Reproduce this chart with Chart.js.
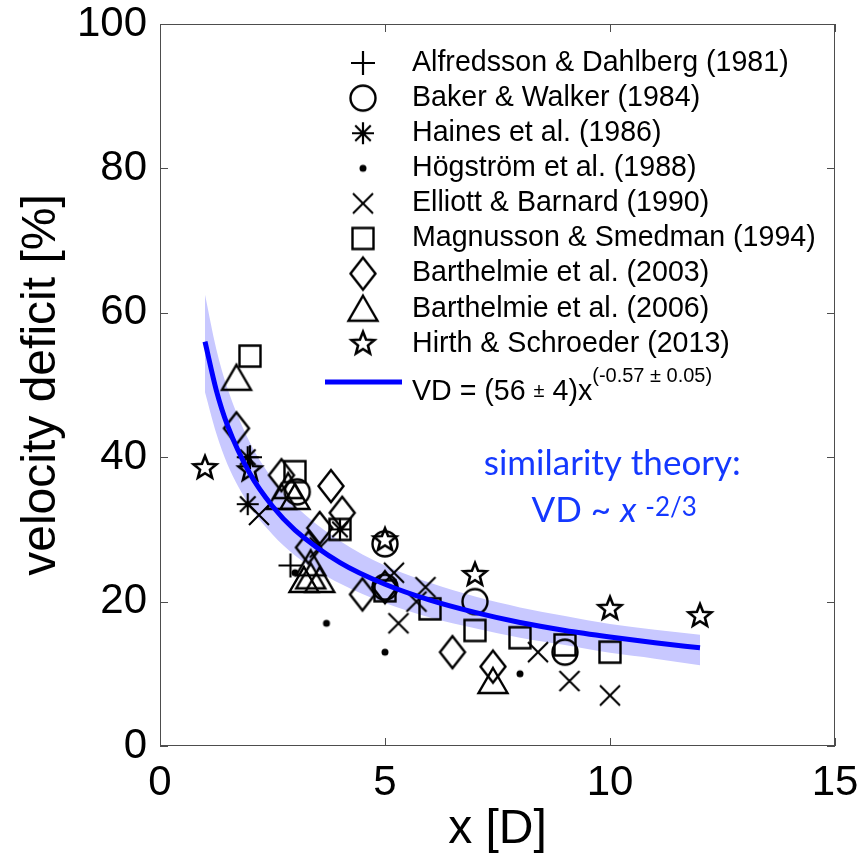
<!DOCTYPE html>
<html>
<head>
<meta charset="utf-8">
<script src="https://cdn.jsdelivr.net/npm/chart.js@4.4.0/dist/chart.umd.min.js"></script>
<style>
  html, body { margin: 0; padding: 0; background: #fff; }
</style>
</head>
<body>
<canvas id="vdChart" width="863" height="859"></canvas>
<script>
// wake velocity deficit [%] against downstream distance x [D]
const studyNames = [
  "Alfredsson & Dahlberg (1981)",
  "Baker & Walker (1984)",
  "Haines et al. (1986)",
  "Högström et al. (1988)",
  "Elliott & Barnard (1990)",
  "Magnusson & Smedman (1994)",
  "Barthelmie et al. (2003)",
  "Barthelmie et al. (2006)",
  "Hirth & Schroeder (2013)",
];
const studyMarkers = ["plus", "circle", "asterisk", "dot", "x", "square", "diamond", "triangle", "star"];

const alfredssonX = [2.9, 2.0];
const alfredssonVD = [25, 40];
const bakerX = [3.05, 5, 5, 7, 9];
const bakerVD = [35.2, 28, 22, 20, 13];
const hainesX = [1.95, 1.95, 4];
const hainesVD = [40, 33.5, 30];
const hogstromX = [3, 3.7, 5, 8];
const hogstromVD = [24, 17, 13, 10];
const elliottX = [2.2, 3.55, 5.2, 5.3, 5.7, 5.9, 8.4, 9.1, 10];
const elliottVD = [32, 27.5, 24, 17, 20, 22, 13, 9, 7];
const magnussonX = [2, 3, 4, 5, 6, 7, 8, 9, 10];
const magnussonVD = [54, 38, 30, 21.5, 19, 16, 15, 14, 13];
const barth03X = [1.7, 2.7, 3.3, 3.55, 3.8, 4.05, 4.5, 5, 6.5, 7.4];
const barth03VD = [44, 37.5, 27.5, 30.2, 36, 32.3, 21, 22, 13, 11];
const barth06X = [1.7, 2.7, 2.85, 3, 3.35, 3.35, 3.2, 3.55, 7.4];
const barth06VD = [51, 34.5, 36, 34.5, 25.3, 23.5, 23, 23, 9];
const hirthX = [1, 2, 5, 7, 10, 12];
const hirthVD = [38.5, 38.2, 28.5, 23.7, 19, 18];

// fitted curve VD = 56 x^-0.57 and its shaded band, read at a few distances
const fitX = [1, 1.25, 1.5, 2, 2.5, 3, 4, 5, 6, 7, 8, 9, 10, 11, 12];
const fitVD = [56, 49.3, 44.4, 37.7, 33.2, 29.9, 25.4, 22.4, 20.2, 18.5, 17.1, 16.0, 15.1, 14.3, 13.6];
const bandUpper = [62.5, 55, 49.5, 42, 37, 33.3, 28.4, 25, 22.6, 20.7, 19.2, 18, 16.9, 16.1, 15.4];
const bandLower = [49, 43.3, 39, 33.2, 29.3, 26.4, 22.5, 19.8, 17.8, 16.3, 15.0, 14.0, 12.9, 12.1, 11.2];

const allX = [alfredssonX, bakerX, hainesX, hogstromX, elliottX, magnussonX, barth03X, barth06X, hirthX];
const allVD = [alfredssonVD, bakerVD, hainesVD, hogstromVD, elliottVD, magnussonVD, barth03VD, barth06VD, hirthVD];

const SANS = "'Liberation Sans', Arial, sans-serif";

function toPoints(xs, ys) {
  return xs.map((x, i) => ({ x: x, y: ys[i] }));
}

// matlab-like open markers drawn once into small canvases
function makeMarker(kind) {
  const s = 38;
  const c = document.createElement("canvas");
  c.width = s;
  c.height = s;
  const g = c.getContext("2d");
  g.translate(s / 2, s / 2);
  g.strokeStyle = "#000";
  g.fillStyle = "#000";
  g.lineWidth = 2.4;
  g.beginPath();
  if (kind === "plus") {
    g.lineWidth = 2.2;
    g.moveTo(-12, 0); g.lineTo(12, 0);
    g.moveTo(0, -12); g.lineTo(0, 12);
  } else if (kind === "circle") {
    g.arc(0, 0, 12.5, 0, 2 * Math.PI);
  } else if (kind === "asterisk") {
    g.lineWidth = 2.2;
    for (let k = 0; k < 4; k++) {
      const a = (k * Math.PI) / 4;
      g.moveTo(-11 * Math.cos(a), -11 * Math.sin(a));
      g.lineTo(11 * Math.cos(a), 11 * Math.sin(a));
    }
  } else if (kind === "dot") {
    g.arc(0, 0, 3.5, 0, 2 * Math.PI);
    g.fill();
    return c;
  } else if (kind === "x") {
    g.lineWidth = 2.1;
    g.moveTo(-10, -10); g.lineTo(10, 10);
    g.moveTo(10, -10); g.lineTo(-10, 10);
  } else if (kind === "square") {
    g.rect(-10.5, -10.5, 21, 21);
  } else if (kind === "diamond") {
    g.moveTo(0, -16); g.lineTo(12.5, 0); g.lineTo(0, 16); g.lineTo(-12.5, 0);
    g.closePath();
  } else if (kind === "triangle") {
    g.moveTo(0, -13); g.lineTo(14.5, 12); g.lineTo(-14.5, 12);
    g.closePath();
  } else if (kind === "star") {
    g.lineWidth = 2.6;
    for (let k = 0; k < 10; k++) {
      const r = k % 2 === 0 ? 12 : 5.2;
      const a = -Math.PI / 2 + (k * Math.PI) / 5;
      if (k === 0) g.moveTo(r * Math.cos(a), r * Math.sin(a));
      else g.lineTo(r * Math.cos(a), r * Math.sin(a));
    }
    g.closePath();
  }
  g.stroke();
  return c;
}

const markerImages = studyMarkers.map(makeMarker);

const datasets = [];
datasets.push({
  type: "line",
  label: "band upper",
  data: toPoints(fitX, bandUpper),
  borderWidth: 0,
  pointRadius: 0,
  backgroundColor: "rgb(200,200,255)",
  fill: "+1",
  cubicInterpolationMode: "monotone",
  order: 40,
});
datasets.push({
  type: "line",
  label: "band lower",
  data: toPoints(fitX, bandLower),
  borderWidth: 0,
  pointRadius: 0,
  fill: false,
  cubicInterpolationMode: "monotone",
  order: 41,
});
for (let i = 0; i < studyNames.length; i++) {
  datasets.push({
    type: "scatter",
    label: studyNames[i],
    data: toPoints(allX[i], allVD[i]),
    pointStyle: markerImages[i],
    pointRadius: 8,
    order: 20 - i,
  });
}
datasets.push({
  type: "line",
  label: "VD = (56 ± 4)x^(-0.57 ± 0.05)",
  data: toPoints(fitX, fitVD),
  borderColor: "#0000ff",
  borderWidth: 5,
  pointRadius: 0,
  fill: false,
  cubicInterpolationMode: "monotone",
  order: 0,
});

// box with inward ticks, legend and the similarity-theory note
const decorations = {
  id: "decorations",
  afterDraw(chart) {
    const ctx = chart.ctx;
    const a = chart.chartArea;
    const xs = chart.scales.x;
    const ys = chart.scales.y;
    ctx.save();

    ctx.strokeStyle = "#4d4d4d";
    ctx.lineWidth = 1;
    ctx.strokeRect(Math.round(a.left) + 0.5, Math.round(a.top) + 0.5,
      Math.round(a.right - a.left) - 1, Math.round(a.bottom - a.top) - 1);
    ctx.beginPath();
    xs.ticks.forEach((t) => {
      const px = Math.round(xs.getPixelForValue(t.value)) + 0.5;
      ctx.moveTo(px, a.bottom); ctx.lineTo(px, a.bottom - 8);
      ctx.moveTo(px, a.top); ctx.lineTo(px, a.top + 8);
    });
    ys.ticks.forEach((t) => {
      const py = Math.round(ys.getPixelForValue(t.value)) + 0.5;
      ctx.moveTo(a.left, py); ctx.lineTo(a.left + 8, py);
      ctx.moveTo(a.right, py); ctx.lineTo(a.right - 8, py);
    });
    ctx.stroke();

    // legend
    const markX = a.left + 203;
    const textX = a.left + 252;
    const rowY = a.top + 39;
    const step = 35.1;
    ctx.fillStyle = "#000";
    ctx.textBaseline = "middle";
    ctx.textAlign = "left";
    for (let i = 0; i < studyNames.length; i++) {
      const y = rowY + i * step;
      const img = markerImages[i];
      ctx.drawImage(img, markX - img.width / 2, y - img.height / 2);
      ctx.font = "28.6px " + SANS;
      ctx.fillText(studyNames[i], textX, y);
    }
    const lineY = rowY + studyNames.length * step + 3;
    ctx.strokeStyle = "#0000ff";
    ctx.lineWidth = 5;
    ctx.beginPath();
    ctx.moveTo(a.left + 165, lineY);
    ctx.lineTo(a.left + 242, lineY);
    ctx.stroke();
    const pieces = [
      ["VD = (56 ", 28.6, 0],
      ["±", 20, 0],
      [" 4)x", 28.6, 0],
      ["(-0.57 ± 0.05)", 20, -15],
    ];
    let tx = textX;
    pieces.forEach((p) => {
      ctx.font = p[1] + "px " + SANS;
      ctx.fillText(p[0], tx, lineY + 10 + p[2]);
      tx += ctx.measureText(p[0]).width;
    });

    // similarity theory note, placed in data units
    const blue = "#1438ff";
    const cx = xs.getPixelForValue(10.05);
    ctx.fillStyle = blue;
    ctx.textBaseline = "alphabetic";
    ctx.textAlign = "center";
    ctx.font = "35px Lato, 'Open Sans', sans-serif";
    ctx.fillText("similarity theory:", cx, ys.getPixelForValue(37.5));
    const by = ys.getPixelForValue(31);
    ctx.textAlign = "left";
    const parts = [
      ["VD ~ ", "35px Lato, sans-serif", 0],
      ["x", "italic 35px Lato, sans-serif", 0],
      [" ", "35px Lato, sans-serif", 0],
      ["-2/3", "26px Lato, sans-serif", -6],
    ];
    let total = 0;
    parts.forEach((p) => { ctx.font = p[1]; total += ctx.measureText(p[0]).width; });
    let bx = cx - total / 2 + 2;
    parts.forEach((p) => {
      ctx.font = p[1];
      ctx.fillText(p[0], bx, by + p[2]);
      bx += ctx.measureText(p[0]).width;
    });

    ctx.restore();
  },
};

const vdChart = new Chart(document.getElementById("vdChart").getContext("2d"), {
  type: "scatter",
  data: { datasets: datasets },
  options: {
    responsive: false,
    devicePixelRatio: 1,
    animation: false,
    layout: { padding: { top: 24, right: 28, left: 0, bottom: 0 } },
    plugins: { legend: { display: false }, tooltip: { enabled: false } },
    scales: {
      x: {
        type: "linear",
        min: 0,
        max: 15,
        ticks: { stepSize: 5, color: "#000", padding: 16, maxRotation: 0, autoSkip: false,
          font: { family: SANS, size: 42, lineHeight: 1 } },
        grid: { display: false, drawTicks: false },
        border: { display: false },
        title: { display: true, text: "x [D]", color: "#000",
          font: { family: SANS, size: 48, lineHeight: 1 }, padding: { top: 0, bottom: 5 } },
        afterFit(scale) {
          scale.height = 113;
          scale.paddingLeft = 0;
          scale.paddingRight = 0;
        },
      },
      y: {
        type: "linear",
        min: 0,
        max: 100,
        ticks: { stepSize: 20, color: "#000", padding: 13,
          font: { family: SANS, size: 42, lineHeight: 1 } },
        grid: { display: false, drawTicks: false },
        border: { display: false },
        title: { display: true, text: "velocity deficit [%]", color: "#000",
          font: { family: SANS, size: 48, lineHeight: 1 }, padding: { top: 18, bottom: 0 } },
        afterFit(scale) {
          scale.width = 160;
          scale.paddingTop = 0;
          scale.paddingBottom = 0;
        },
      },
    },
  },
  plugins: [decorations],
});
</script>
</body>
</html>
